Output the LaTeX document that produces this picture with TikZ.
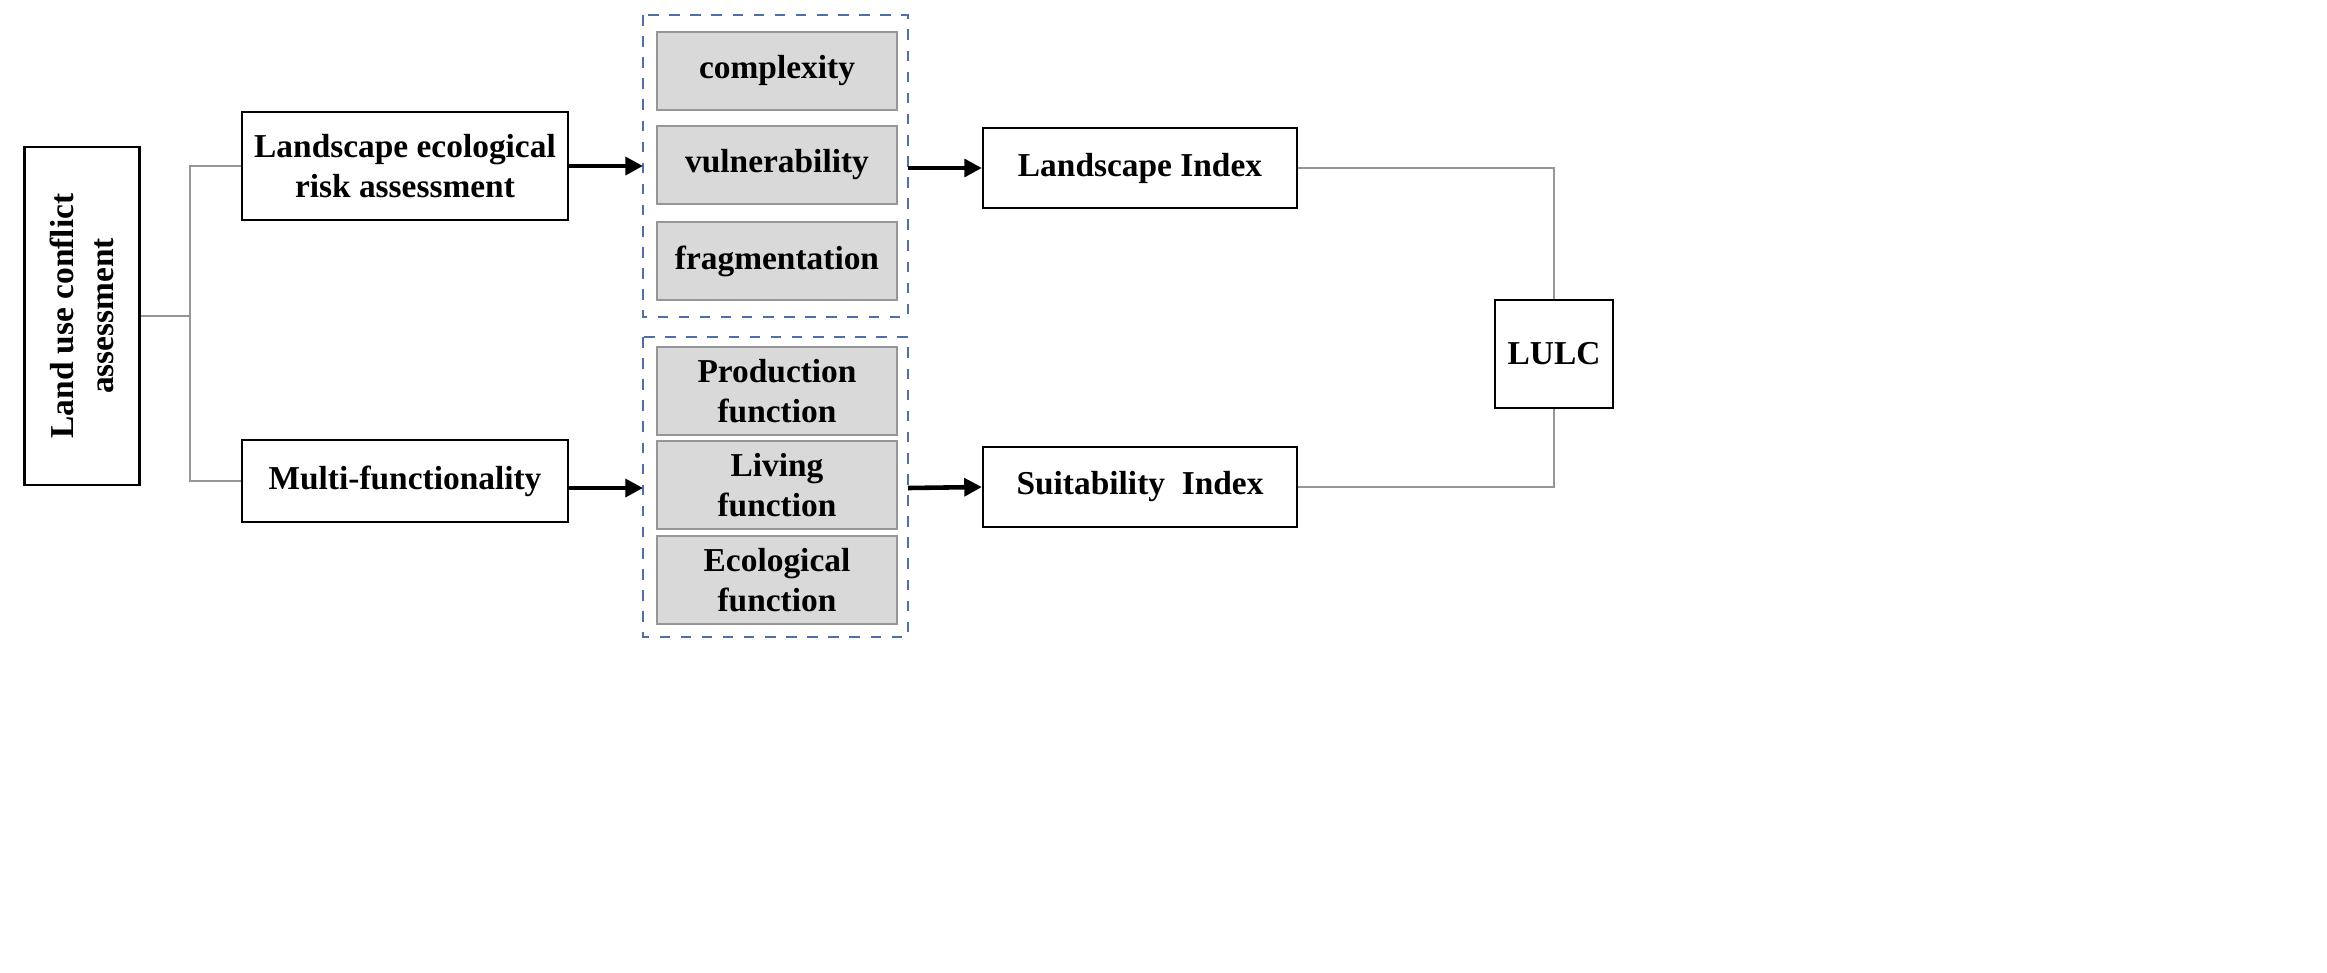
\documentclass[tikz,border=0pt]{standalone}
\usepackage{fontspec}
\setmainfont{Liberation Serif}
\usetikzlibrary{arrows.meta}
\definecolor{boxgray}{RGB}{217,217,217}
\definecolor{linegray}{RGB}{150,150,150}
\definecolor{dashblue}{RGB}{80,110,170}
\tikzset{
  wbox/.style={draw, line width=0.6pt, fill=white, align=center, font=\bfseries\fontsize{9.5}{11.5}\selectfont},
  gbox/.style={draw=linegray, line width=0.6pt, fill=boxgray, minimum width=2.4cm, minimum height=0.78cm, align=center, font=\bfseries\fontsize{9.5}{11.5}\selectfont},
  grp/.style={draw=dashblue, dashed, line width=0.6pt},
  link/.style={draw=linegray, line width=0.8pt},
  arr/.style={-{Triangle[length=5pt,width=5pt]}, line width=1.3pt}
}
\begin{document}
\begin{tikzpicture}[x=0.01cm,y=-0.01cm]
    \useasboundingbox (0,0) rectangle (2327,972);
    % left column
    \node[wbox, minimum width=3.38cm, minimum height=1.15cm, rotate=90] (luc) at (82,316) {Land use conflict\\assessment};
    \node[wbox, minimum width=3.26cm, minimum height=1.08cm] (risk) at (405,166) {Landscape ecological\\risk assessment};
    \node[wbox, minimum width=3.26cm, minimum height=0.82cm] (multi) at (405,481) {Multi-functionality};
    \coordinate (split) at (190,316);
    \draw[link] (luc.south) -- (split) |- (risk.west);
    \draw[link] (split) |- (multi.west);
    % indicator groups
    \node[gbox] (cpx) at (777,71) {complexity};
    \node[gbox] (vul) at (777,165) {vulnerability};
    \node[gbox] (frg) at (777,261) {fragmentation};
    \node[gbox] (prd) at (777,391) {Production\\function};
    \node[gbox] (liv) at (777,485) {Living\\function};
    \node[gbox] (eco) at (777,580) {Ecological\\function};
    \draw[grp] (643,15) rectangle (908,317);
    \draw[grp] (643,337) rectangle (908,637);
    \coordinate (g1w) at (643,166);
    \coordinate (g1e) at (908,168);
    \coordinate (g2w) at (643,488);
    \coordinate (g2e) at (908,488);
    % indices
    \node[wbox, minimum width=3.14cm, minimum height=0.8cm] (lidx) at (1140,168) {Landscape Index};
    \node[wbox, minimum width=3.14cm, minimum height=0.8cm] (sidx) at (1140,487) {Suitability\ \ Index};
    \node[wbox, minimum width=1.18cm, minimum height=1.08cm] (lulc) at (1554,354) {LULC};
    \draw[arr] (risk.east |- g1w) -- (g1w);
    \draw[arr] (multi.east |- g2w) -- (g2w);
    \draw[arr] (g1e) -- (lidx.west);
    \draw[arr] (g2e) -- (sidx.west);
    \draw[link] (lidx.east) -| (lulc.north);
    \draw[link] (sidx.east) -| (lulc.south);
\end{tikzpicture}
\end{document}
